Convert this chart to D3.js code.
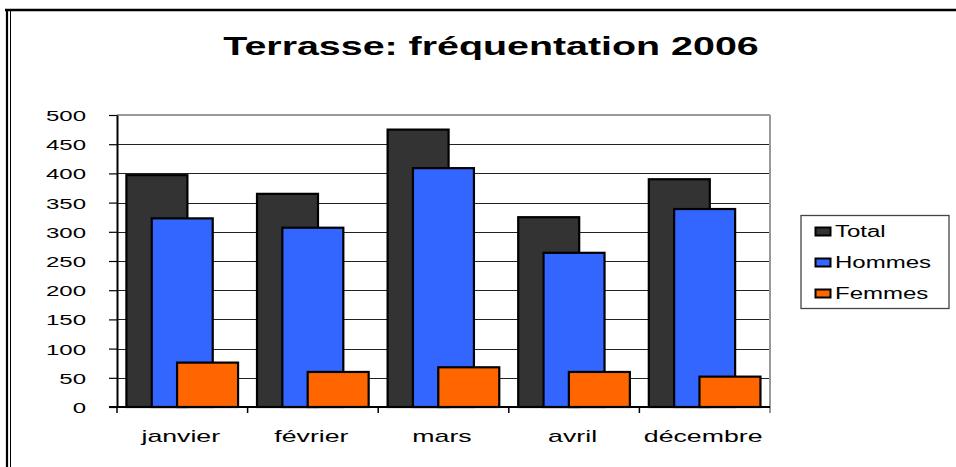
<!DOCTYPE html>
<html>
<head>
<meta charset="utf-8">
<script src="https://cdn.jsdelivr.net/npm/d3@7"></script>
<style>
  html, body { margin: 0; padding: 0; background: #fff; }
  svg { display: block; font-family: "Liberation Sans", Arial, sans-serif; }
</style>
</head>
<body>
<svg id="chart" width="956" height="467"></svg>
<script>
// ---- data ----
const titleText = "Terrasse: fréquentation 2006";
const categories = ["janvier", "février", "mars", "avril", "décembre"];
const seriesNames = ["Total", "Hommes", "Femmes"];
const totalValues = [397, 365, 475, 325, 390];
const hommesValues = [323, 307, 409, 264, 339];
const femmesValues = [76, 60, 68, 60, 52];
const yTickValues = [0, 50, 100, 150, 200, 250, 300, 350, 400, 450, 500];
const seriesColors = ["#333333", "#3366FF", "#FF6600"];

const seriesValues = [totalValues, hommesValues, femmesValues];
const svg = d3.select("#chart");

// horizontal stretch helper (reference glyphs are widened)
function stretch(sel, k) {
  sel.each(function () {
    const w = this.getComputedTextLength();
    d3.select(this).attr("textLength", w * k).attr("lengthAdjust", "spacingAndGlyphs");
  });
}

// ---- outer frame ----
svg.append("line").attr("x1", 5).attr("x2", 956).attr("y1", 10).attr("y2", 10)
  .attr("stroke", "#000").attr("stroke-width", 2.5);
svg.append("line").attr("x1", 7).attr("x2", 7).attr("y1", 9).attr("y2", 467)
  .attr("stroke", "#000").attr("stroke-width", 2.2);
svg.append("line").attr("x1", 10.5).attr("x2", 10.5).attr("y1", 9).attr("y2", 467)
  .attr("stroke", "#000").attr("stroke-width", 1);

// ---- title ----
svg.append("text").attr("x", 491).attr("y", 54.5)
  .attr("text-anchor", "middle").attr("font-size", 25).attr("font-weight", "bold")
  .attr("fill", "#000").text(titleText).call(stretch, 1.575);

// ---- scales ----
const plot = { left: 117, right: 770, top: 115, bottom: 407 };
const x = d3.scaleBand().domain(categories).range([plot.left, plot.right]).padding(0);
const y = d3.scaleLinear().domain([0, 500]).range([plot.bottom, plot.top]);
const bw = x.bandwidth();
const barW = bw * 0.467;
const offset = d3.scalePoint().domain(seriesNames).range([bw * 0.072, bw * 0.072 + bw * 0.388]);

// ---- gridlines ----
svg.append("g").selectAll("line").data(yTickValues.filter(v => v > 0 && v < 500)).join("line")
  .attr("x1", plot.left).attr("x2", plot.right)
  .attr("y1", d => Math.round(y(d)) + 0.5).attr("y2", d => Math.round(y(d)) + 0.5)
  .attr("stroke", "#222").attr("stroke-width", 1.1);

// plot border (top & right) in grey
svg.append("line").attr("x1", plot.left).attr("x2", plot.right).attr("y1", plot.top).attr("y2", plot.top)
  .attr("stroke", "#999").attr("stroke-width", 2);
svg.append("line").attr("x1", plot.right).attr("x2", plot.right).attr("y1", plot.top).attr("y2", plot.bottom + 6)
  .attr("stroke", "#999").attr("stroke-width", 2);

// ---- bars ----
seriesNames.forEach((s, si) => {
  svg.append("g").selectAll("rect").data(categories).join("rect")
    .attr("x", c => x(c) + offset(s))
    .attr("y", (c, i) => y(seriesValues[si][i]))
    .attr("width", barW)
    .attr("height", (c, i) => y(0) - y(seriesValues[si][i]))
    .attr("fill", seriesColors[si])
    .attr("stroke", "#000").attr("stroke-width", 2.2);
});

// ---- y axis ----
const yAxis = svg.append("g").attr("transform", `translate(${plot.left},0)`)
  .call(d3.axisLeft(y).tickValues(yTickValues).tickSize(8).tickPadding(23).tickSizeOuter(0));
yAxis.select(".domain").attr("stroke", "#000").attr("stroke-width", 2);
yAxis.selectAll(".tick line").attr("stroke", "#000").attr("stroke-width", 1.2);
yAxis.selectAll(".tick text").attr("font-size", 15).attr("fill", "#000")
  .attr("font-family", "Liberation Sans, Arial, sans-serif").attr("dy", "0.36em")
  .call(stretch, 1.6);
svg.append("line").attr("x1", plot.left).attr("x2", plot.left).attr("y1", plot.bottom).attr("y2", plot.bottom + 6)
  .attr("stroke", "#000").attr("stroke-width", 1.5);

// ---- x axis ----
svg.append("line").attr("x1", plot.left - 8).attr("x2", plot.right).attr("y1", plot.bottom).attr("y2", plot.bottom)
  .attr("stroke", "#000").attr("stroke-width", 2);
svg.append("g").selectAll("line").data(categories.slice(1)).join("line")
  .attr("x1", c => x(c)).attr("x2", c => x(c))
  .attr("y1", plot.bottom).attr("y2", plot.bottom + 6)
  .attr("stroke", "#000").attr("stroke-width", 1.5);
svg.append("g").selectAll("text").data(categories).join("text")
  .attr("x", c => x(c) + bw / 2 - 1.5).attr("y", 442)
  .attr("text-anchor", "middle").attr("font-size", 17).attr("fill", "#000")
  .text(c => c).call(stretch, 1.57);

// ---- legend ----
const legend = svg.append("g");
legend.append("rect").attr("x", 801).attr("y", 215.5).attr("width", 148).attr("height", 93)
  .attr("fill", "#fff").attr("stroke", "#444").attr("stroke-width", 1.3);
const items = legend.selectAll("g.item").data(seriesNames).join("g").attr("class", "item");
items.append("rect")
  .attr("x", 815.5).attr("y", (d, i) => 227.5 + i * 31)
  .attr("width", 15).attr("height", 8)
  .attr("fill", (d, i) => seriesColors[i]).attr("stroke", "#000").attr("stroke-width", 2);
items.append("text")
  .attr("x", 835).attr("y", (d, i) => 236.5 + i * 31)
  .attr("font-size", 16).attr("fill", "#000").text(d => d)
  .call(stretch, 1.5);
</script>
</body>
</html>
